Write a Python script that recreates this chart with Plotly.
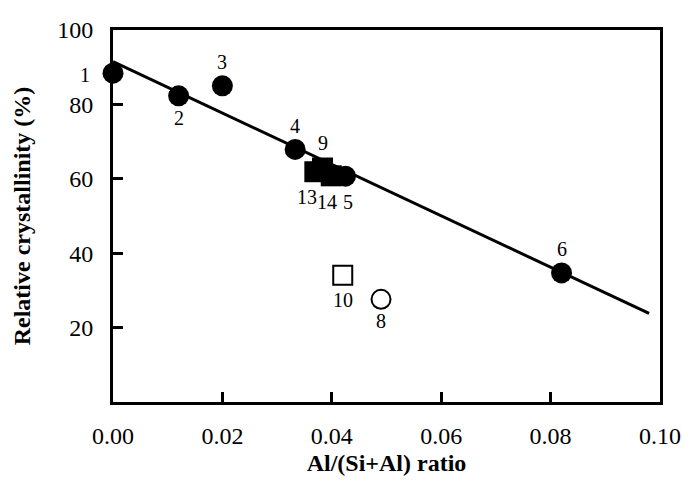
import plotly.graph_objects as go

# Filled circles
circ_labels = ["1", "2", "3", "4", "5", "6"]
circ_x = [0.0, 0.012, 0.020, 0.0333, 0.0425, 0.082]
circ_y = [88.4, 82.3, 85.0, 67.9, 60.7, 34.7]

# Filled squares
sq_labels = ["9", "13", "14"]
sq_x = [0.0383, 0.0369, 0.0399]
sq_y = [62.9, 61.9, 60.8]

# Open square
osq_labels = ["10"]
osq_x = [0.042]
osq_y = [34.1]

# Open circle
ocirc_labels = ["8"]
ocirc_x = [0.049]
ocirc_y = [27.6]

# Trend line
line_x = [0.0, 0.098]
line_y = [91.5, 23.8]

x_ticks = [0.0, 0.02, 0.04, 0.06, 0.08, 0.10]
y_ticks = [20, 40, 60, 80, 100]

FONT = "Liberation Serif"

fig = go.Figure()
fig.add_trace(go.Scatter(x=line_x, y=line_y, mode="lines",
                         line=dict(color="black", width=3), showlegend=False,
                         cliponaxis=False))
fig.add_trace(go.Scatter(x=circ_x, y=circ_y, mode="markers",
                         marker=dict(symbol="circle", size=21, color="black"),
                         showlegend=False, cliponaxis=False))
fig.add_trace(go.Scatter(x=sq_x, y=sq_y, mode="markers",
                         marker=dict(symbol="square", size=21, color="black"),
                         showlegend=False, cliponaxis=False))
fig.add_trace(go.Scatter(x=osq_x, y=osq_y, mode="markers",
                         marker=dict(symbol="square", size=19, color="white",
                                     line=dict(color="black", width=2)),
                         showlegend=False, cliponaxis=False))
fig.add_trace(go.Scatter(x=ocirc_x, y=ocirc_y, mode="markers",
                         marker=dict(symbol="circle", size=19, color="white",
                                     line=dict(color="black", width=2)),
                         showlegend=False, cliponaxis=False))

# label offsets (pixels): xshift, yshift
offsets = {
    "1": (-28, -2), "2": (0, -22), "3": (0, 24), "4": (0, 23),
    "5": (3, -26), "6": (0, 24), "9": (0, 25), "13": (-8, -25),
    "14": (-4, -26), "10": (0, -25), "8": (0, -22),
}
for labs, xs, ys in [(circ_labels, circ_x, circ_y), (sq_labels, sq_x, sq_y),
                     (osq_labels, osq_x, osq_y), (ocirc_labels, ocirc_x, ocirc_y)]:
    for lab, xv, yv in zip(labs, xs, ys):
        dx, dy = offsets[lab]
        fig.add_annotation(x=xv, y=yv, text=lab, showarrow=False,
                           xshift=dx, yshift=dy,
                           font=dict(family=FONT, size=20, color="black"))

fig.update_layout(
    width=682, height=482,
    margin=dict(l=113, r=22, t=30, b=80),
    plot_bgcolor="white", paper_bgcolor="white",
    font=dict(family=FONT, size=24, color="black"),
)
fig.update_xaxes(
    range=[0, 0.1], tickvals=x_ticks, ticktext=[f"{v:.2f}" for v in x_ticks],
    showgrid=False, zeroline=False, showline=True, linecolor="black", linewidth=3,
    mirror=True, ticks="inside", ticklen=10, tickwidth=3, tickcolor="black",
    tickfont=dict(family=FONT, size=24), ticklabelstandoff=10, automargin=False,
    title=dict(text="<b>Al/(Si+Al) ratio</b>", font=dict(family=FONT, size=24), standoff=7),
)
fig.update_yaxes(
    range=[0, 100], tickvals=y_ticks, ticktext=[str(v) for v in y_ticks],
    showgrid=False, zeroline=False, showline=True, linecolor="black", linewidth=3,
    mirror=True, ticks="inside", ticklen=10, tickwidth=3, tickcolor="black",
    tickfont=dict(family=FONT, size=24), ticklabelstandoff=12, automargin=False,
    title=dict(text="<b>Relative crystallinity (%)</b>", font=dict(family=FONT, size=24), standoff=20),
)

fig.write_html("out.html", config={"displayModeBar": False},
               post_script="document.body.style.margin='0';document.body.style.overflow='hidden';")
